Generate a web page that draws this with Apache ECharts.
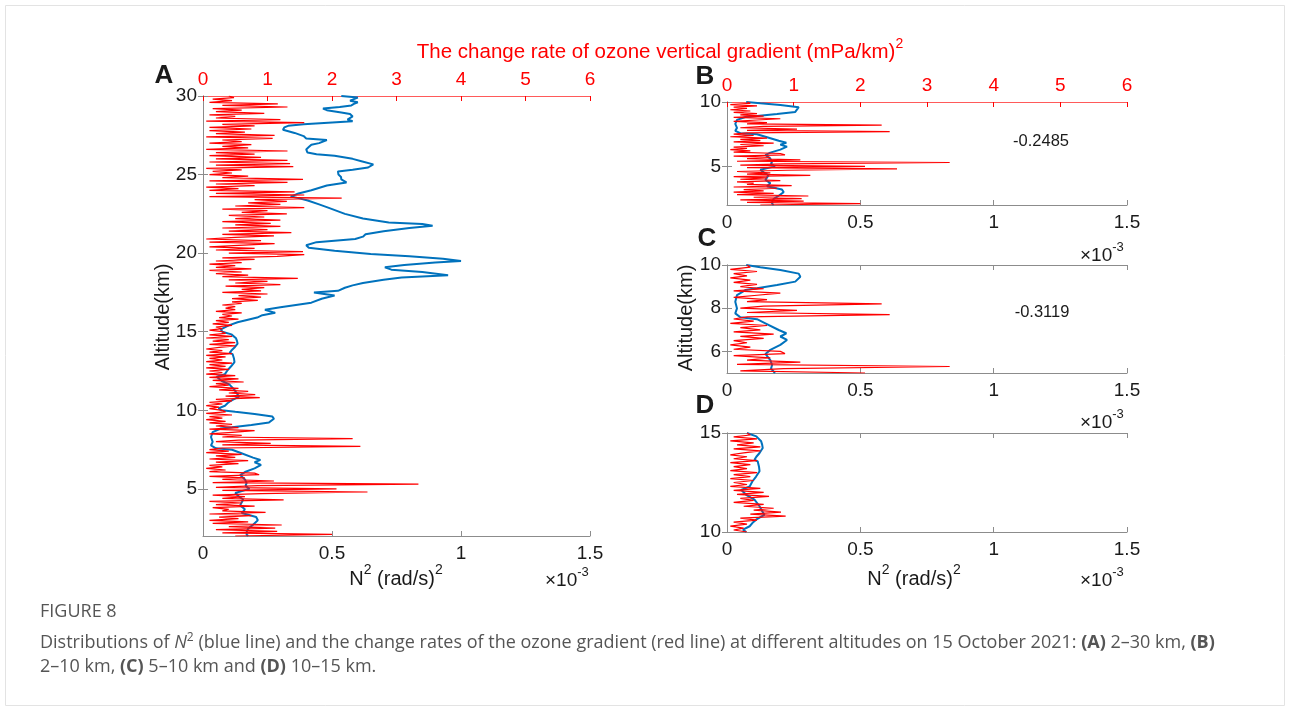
<!DOCTYPE html>
<html>
<head>
<meta charset="utf-8">
<script src="https://cdn.jsdelivr.net/npm/echarts@6/dist/echarts.min.js"></script>
<style>
html,body{margin:0;padding:0;background:#fff;}
#chart{width:1290px;height:718px;}
</style>
</head>
<body>
<div id="chart"></div>
<script>
// ---------------- DATA ----------------
// Red line: change rate of ozone vertical gradient (mPa/km)^2, altitude grid 2.0 .. 30.0 km, step 0.1 km
const RED_ALT_START = 2.0;
const RED_ALT_STEP = 0.1;
const redRate = [
  0.5, 2.0, 0.3, 1.15, 0.2, 1.12, 0.4, 1.22, 0.15, 0.7,      // 2.0-2.9
  0.1, 0.55, 0.25, 0.75, 0.1, 0.97, 0.3, 0.4, 0.15, 0.8,     // 3.0-3.9
  0.2, 0.6, 0.1, 1.25, 0.3, 0.65, 0.15, 0.9, 2.55, 0.3,      // 4.0-4.9
  2.07, 0.2, 0.85, 3.34, 0.15, 1.1, 0.3, 0.65, 0.1, 0.87,    // 5.0-5.9
  0.8, 0.1, 0.35, 0.05, 0.3, 0.1, 0.55, 0.2, 0.7, 0.1,       // 6.0-6.9
  0.5, 0.2, 0.6, 0.05, 0.4, 0.1, 0.3, 2.44, 0.3, 1.05,       // 7.0-7.9
  0.2, 0.55, 2.32, 0.3, 0.6, 0.1, 0.45, 0.8, 0.1, 0.55,      // 8.0-8.9
  0.2, 0.45, 0.1, 0.35, 0.05, 0.3, 0.1, 0.45, 0.05, 0.35,    // 9.0-9.9
  0.3, 0.1, 0.25, 0.05, 0.3, 0.1, 0.45, 0.2, 0.88, 0.35,     // 10.0-10.9
  0.81, 0.4, 0.7, 0.25, 0.55, 0.1, 0.4, 0.2, 0.63, 0.15,     // 11.0-11.9
  0.55, 0.1, 0.5, 0.05, 0.3, 0.1, 0.4, 0.05, 0.35, 0.1,      // 12.0-12.9
  0.45, 0.05, 0.3, 0.1, 0.35, 0.05, 0.45, 0.1, 0.3, 0.05,    // 13.0-13.9
  0.25, 0.5, 0.1, 0.5, 0.15, 0.4, 0.05, 0.45, 0.1, 0.35,     // 14.0-14.9
  0.3, 0.1, 0.3, 0.2, 0.45, 0.15, 0.4, 0.2, 0.55, 0.25,      // 15.0-15.9
  0.45, 0.3, 0.6, 0.2, 0.5, 0.35, 0.5, 0.3, 0.6, 0.45,       // 16.0-16.9
  0.85, 0.45, 0.9, 0.55, 1.0, 0.3, 0.9, 0.6, 0.95, 0.35,     // 17.0-17.9
  1.2, 0.5, 1.0, 0.4, 1.47, 0.3, 0.7, 0.2, 0.6, 0.1,         // 18.0-18.9
  0.75, 0.2, 0.5, 0.1, 0.6, 0.2, 0.8, 0.3, 1.15, 1.57,       // 19.0-19.9
  0.4, 1.55, 0.2, 0.8, 0.1, 0.55, 1.11, 0.1, 0.9, 0.05,      // 20.0-20.9
  0.5, 1.1, 0.3, 1.37, 0.4, 1.0, 0.3, 1.2, 0.5, 1.05,        // 21.0-21.9
  0.3, 1.2, 0.5, 0.95, 0.4, 1.3, 0.6, 1.0, 0.3, 1.57,        // 22.0-22.9
  0.5, 1.2, 0.7, 1.3, 0.8, 2.15, 0.1, 1.57, 0.2, 1.42,       // 23.0-23.9
  0.1, 0.55, 0.05, 0.8, 0.2, 1.31, 0.1, 1.55, 0.3, 0.7,      // 24.0-24.9
  0.1, 0.45, 0.15, 0.6, 0.05, 1.4, 0.2, 1.35, 0.1, 1.31,     // 25.0-25.9
  0.2, 0.9, 0.1, 0.8, 0.2, 1.31, 0.05, 0.7, 0.3, 0.75,       // 26.0-26.9
  0.1, 0.6, 0.3, 1.08, 0.05, 1.11, 0.2, 0.65, 0.1, 0.75,     // 27.0-27.9
  0.1, 0.8, 0.3, 1.57, 0.05, 1.2, 0.2, 0.5, 0.1, 0.95,       // 28.0-28.9
  0.2, 0.6, 0.15, 1.31, 0.3, 1.16, 0.1, 0.45, 0.15, 0.48,    // 29.0-29.9
  0.4                                                        // 30.0
];

// Blue line: N^2 in units of 1e-3 (rad/s)^2, with altitudes (km)
const blueAlt = [
  30.0, 29.9, 29.8, 29.7, 29.6, 29.5, 29.4, 29.3, 29.2, 29.1, 28.95, 28.85, 28.7, 28.6, 28.5, 28.4, 28.3, 28.2, 28.1, 28.0,
  27.85, 27.65, 27.45, 27.3, 27.2, 27.1, 27.0, 26.9, 26.75, 26.6, 26.4, 26.3, 26.2, 26.0, 25.85, 25.65, 25.45, 25.3, 25.2, 25.1,
  25.0, 24.85, 24.7, 24.5, 24.3, 24.0, 23.8, 23.6, 23.5, 23.35, 23.1, 22.9, 22.8, 22.5, 22.2, 21.95, 21.85, 21.75, 21.6, 21.4,
  21.2, 21.05, 20.9, 20.7, 20.5, 20.35, 20.15, 19.95, 19.8, 19.65, 19.5, 19.4, 19.25, 19.1, 18.95, 18.8, 18.6, 18.45, 18.3, 18.1,
  17.95, 17.8, 17.6, 17.5, 17.3, 17.1, 16.85, 16.7, 16.55, 16.4, 16.2, 16.05, 15.9, 15.75, 15.6, 15.4, 15.15, 15.0,
  14.83, 14.58, 14.4, 14.24, 13.99, 13.8, 13.65, 13.57, 13.3, 13.07, 12.8, 12.55, 12.3, 12.13, 11.88, 11.63, 11.3, 11.1, 10.87, 10.62,
  10.45, 10.29, 10.12, 10.0,
  9.9, 9.77, 9.6, 9.46, 9.23, 9.07, 8.92, 8.84, 8.61, 8.3, 7.99, 7.76, 7.58, 7.49, 7.3, 6.99, 6.84, 6.69, 6.53, 6.3,
  6.07, 5.88, 5.6, 5.37, 5.2, 5.0,
  4.74, 4.5, 4.32, 3.95, 3.7, 3.46, 3.21, 3.0, 2.72, 2.47, 2.3, 2.1, 2.0
];
const blueN2 = [
  0.536, 0.60, 0.585, 0.57, 0.60, 0.585, 0.575, 0.53, 0.465, 0.48, 0.536, 0.57, 0.58, 0.575, 0.56, 0.58, 0.575, 0.39, 0.33, 0.315,
  0.31, 0.355, 0.39, 0.40, 0.48, 0.485, 0.45, 0.42, 0.41, 0.40, 0.405, 0.44, 0.51, 0.58, 0.614, 0.66, 0.64, 0.58, 0.523, 0.53,
  0.525, 0.535, 0.536, 0.556, 0.48, 0.42, 0.37, 0.34, 0.37, 0.406, 0.45, 0.485, 0.49, 0.55, 0.62, 0.72, 0.85, 0.89, 0.80, 0.70,
  0.63, 0.62, 0.59, 0.44, 0.40, 0.41, 0.51, 0.65, 0.80, 0.93, 1.0, 0.90, 0.78, 0.705, 0.73, 0.85, 0.95, 0.77, 0.70, 0.62,
  0.58, 0.55, 0.523, 0.43, 0.51, 0.46, 0.42, 0.36, 0.30, 0.24, 0.28, 0.23, 0.21, 0.17, 0.134, 0.10, 0.069, 0.075,
  0.11, 0.128, 0.132, 0.134, 0.122, 0.11, 0.103, 0.115, 0.12, 0.122, 0.109, 0.095, 0.085, 0.053, 0.072, 0.103, 0.122, 0.13, 0.14, 0.109,
  0.095, 0.085, 0.06, 0.072,
  0.125, 0.20, 0.269, 0.275, 0.256, 0.1875, 0.1125, 0.069, 0.0375, 0.031, 0.0375, 0.031, 0.05, 0.1125, 0.144, 0.194, 0.2225, 0.20, 0.225, 0.20,
  0.1625, 0.144, 0.1625, 0.169, 0.165, 0.18,
  0.125, 0.14, 0.156, 0.144, 0.1625, 0.15, 0.206, 0.2125, 0.194, 0.175, 0.17, 0.169, 0.175
];

const xTicksN2 = [0, 0.5, 1, 1.5];
const xTicksRed = [0, 1, 2, 3, 4, 5, 6];
const yTicksA = [5, 10, 15, 20, 25, 30];
const yTicksB = [5, 10];
const yTicksC = [6, 8, 10];
const yTicksD = [10, 15];
const corrB = '-0.2485';
const corrC = '-0.3119';

// ---------------- BUILD ----------------
const redAlt = redRate.map((_, i) => +(RED_ALT_START + i * RED_ALT_STEP).toFixed(2));
function pairs(vals, alts, lo, hi) {
  const out = [];
  for (let i = 0; i < vals.length; i++) {
    if (alts[i] >= lo - 1e-9 && alts[i] <= hi + 1e-9) out.push([vals[i], alts[i]]);
  }
  return out;
}

const FONT = '"Liberation Sans", Arial, sans-serif';
const TICK_FS = 19;
const GRAY = '#8c8c8c';
const TXT = '#1a1a1a';
const RED = '#ff0000';
const BLUE = '#0072BD';

const grids = [
  {left: 203, top: 96, width: 387, height: 440},   // A
  {left: 727, top: 102, width: 400, height: 103},  // B
  {left: 727, top: 265, width: 400, height: 108},  // C
  {left: 727, top: 433, width: 400, height: 99}    // D
];

function bottomAxis(g) {
  return {
    type: 'value', gridIndex: g, position: 'bottom', min: 0, max: 1.5, interval: 0.5,
    axisLine: {show: true, lineStyle: {color: GRAY, width: 1}},
    axisTick: {show: true, inside: true, length: 5, lineStyle: {color: GRAY}},
    axisLabel: {show: true, color: TXT, fontFamily: FONT, fontSize: TICK_FS, margin: 8,
      formatter: v => String(v)},
    splitLine: {show: false}
  };
}
function topRedAxis(g) {
  return {
    type: 'value', gridIndex: g, position: 'top', min: 0, max: 6, interval: 1,
    axisLine: {show: true, lineStyle: {color: '#ff5a5a', width: 1}},
    axisTick: {show: true, inside: true, length: 5, lineStyle: {color: RED}},
    axisLabel: {show: true, color: RED, fontFamily: FONT, fontSize: TICK_FS, margin: 7},
    splitLine: {show: false}
  };
}
function topMirrorAxis(g) {
  return {
    type: 'value', gridIndex: g, position: 'top', min: 0, max: 1.5, interval: 0.5,
    axisLine: {show: true, lineStyle: {color: GRAY, width: 1}},
    axisTick: {show: true, inside: true, length: 5, lineStyle: {color: GRAY}},
    axisLabel: {show: false},
    splitLine: {show: false}
  };
}
function leftAxis(g, min, max, ticks) {
  return {
    type: 'value', gridIndex: g, position: 'left', min: min, max: max,
    axisLine: {show: true, lineStyle: {color: GRAY, width: 1}},
    axisTick: {show: true, inside: true, length: 5, lineStyle: {color: GRAY}, customValues: ticks},
    axisLabel: {show: true, color: TXT, fontFamily: FONT, fontSize: TICK_FS, margin: 6, customValues: ticks},
    splitLine: {show: false}
  };
}
function rightAxis(g, min, max, ticks) {
  return {
    type: 'value', gridIndex: g, position: 'right', min: min, max: max,
    axisLine: {show: true, lineStyle: {color: GRAY, width: 1}},
    axisTick: {show: true, inside: true, length: 5, lineStyle: {color: GRAY}, customValues: ticks},
    axisLabel: {show: false, customValues: ticks},
    splitLine: {show: false}
  };
}

const xAxes = [
  bottomAxis(0), topRedAxis(0),
  bottomAxis(1), topRedAxis(1),
  bottomAxis(2), topMirrorAxis(2),
  bottomAxis(3), topMirrorAxis(3),
  Object.assign(topRedAxis(2), {show: false}),   // hidden 0-6 scale for red series in C
  Object.assign(topRedAxis(3), {show: false})    // hidden 0-6 scale for red series in D
];
const yAxes = [
  leftAxis(0, 2, 30, yTicksA), rightAxis(0, 2, 30, yTicksA),
  leftAxis(1, 2, 10, yTicksB), rightAxis(1, 2, 10, yTicksB),
  leftAxis(2, 5, 10, yTicksC), rightAxis(2, 5, 10, yTicksC),
  leftAxis(3, 10, 15, yTicksD), rightAxis(3, 10, 15, yTicksD)
];

function line(data, xi, yi, color, width, z) {
  return {
    type: 'line', data: data, xAxisIndex: xi, yAxisIndex: yi,
    showSymbol: false, symbol: 'none', clip: true, animation: false, z: z,
    lineStyle: {color: color, width: width}, itemStyle: {color: color}
  };
}

const ranges = [[2, 30], [2, 10], [5, 10], [10, 15]];
const redAxisIdx = [1, 3, 8, 9];
const series = [];
ranges.forEach((r, g) => {
  series.push(line(pairs(blueN2, blueAlt, r[0], r[1]), 2 * g, 2 * g, BLUE, 2, 2));
  series.push(line(pairs(redRate, redAlt, r[0], r[1]), redAxisIdx[g], 2 * g, RED, 1.2, 3));
});

function txt(x, y, text, opt) {
  return {
    type: 'text', x: x, y: y, rotation: (opt && opt.rotation) || 0, z: 10,
    style: Object.assign({
      text: text, fill: TXT, font: '17px ' + FONT, align: 'center', verticalAlign: 'middle'
    }, (opt && opt.style) || {})
  };
}
function supRich(fs, sfs, color) {
  return {
    n: {fontSize: fs, fontFamily: FONT, fill: color, lineHeight: fs + 6, verticalAlign: 'bottom'},
    s: {fontSize: sfs, fontFamily: FONT, fill: color, lineHeight: fs + 6, verticalAlign: 'top'}
  };
}
const graphics = [
  {type: 'rect', shape: {x: 5.5, y: 5.5, width: 1279, height: 700}, style: {fill: 'none', stroke: '#e3e3e3', lineWidth: 1}, z: 0, silent: true},
  txt(660, 50, '{n|The change rate of ozone vertical gradient (mPa/km)}{s|2}',
    {style: {fill: RED, rich: supRich(20.5, 14, RED)}}),
  txt(164, 76, 'A', {style: {font: 'bold 26px ' + FONT}}),
  txt(705, 77, 'B', {style: {font: 'bold 26px ' + FONT}}),
  txt(707, 239, 'C', {style: {font: 'bold 26px ' + FONT}}),
  txt(705, 406, 'D', {style: {font: 'bold 26px ' + FONT}}),
  txt(163, 317, 'Altitude(km)', {rotation: Math.PI / 2, style: {font: '20px ' + FONT}}),
  txt(686, 318, 'Altitude(km)', {rotation: Math.PI / 2, style: {font: '20px ' + FONT}}),
  txt(1041, 141, corrB, {style: {font: '16.5px ' + FONT}}),
  txt(1042, 312, corrC, {style: {font: '16.5px ' + FONT}}),
  txt(396, 576, '{n|N}{s|2}{n| (rad/s)}{s|2}', {style: {rich: supRich(20, 14, TXT)}}),
  txt(914, 576, '{n|N}{s|2}{n| (rad/s)}{s|2}', {style: {rich: supRich(20, 14, TXT)}})
];
// x10^-3 multipliers
[[545, 578], [1080, 253], [1080, 420], [1080, 578]].forEach(p => {
  graphics.push(txt(p[0], p[1], '{n|\u00d710}{s|-3}', {style: {align: 'left', rich: supRich(19, 13, TXT)}}));
});
// caption
const CAP = '"Open Sans", "Noto Sans", sans-serif';
const CAPC = '#555555';
const CAP_FS = 18;
graphics.push({
  type: 'text', x: 40, y: 612, z: 10,
  style: {text: 'FIGURE 8', fill: CAPC, font: '18px ' + CAP, align: 'left', verticalAlign: 'middle'}
});
graphics.push({
  type: 'text', x: 40, y: 643, z: 10,
  style: {
    text: 'Distributions of {i|N}{sup|2} (blue line) and the change rates of the ozone gradient (red line) at different altitudes on 15 October 2021: {b|(A)} 2\u201330 km, {b|(B)}',
    fill: CAPC, font: CAP_FS + 'px ' + CAP, align: 'left', verticalAlign: 'middle',
    rich: {
      i: {fontStyle: 'italic', fontSize: CAP_FS, fontFamily: CAP, fill: CAPC, lineHeight: 22},
      sup: {fontSize: 12, fontFamily: CAP, fill: CAPC, verticalAlign: 'top', lineHeight: 22},
      b: {fontWeight: 'bold', fontSize: CAP_FS, fontFamily: CAP, fill: CAPC, lineHeight: 22}
    }
  }
});
graphics.push({
  type: 'text', x: 40, y: 667, z: 10,
  style: {
    text: '2\u201310 km, {b|(C)} 5\u201310 km and {b|(D)} 10\u201315 km.',
    fill: CAPC, font: CAP_FS + 'px ' + CAP, align: 'left', verticalAlign: 'middle',
    rich: {b: {fontWeight: 'bold', fontSize: CAP_FS, fontFamily: CAP, fill: CAPC}}
  }
});

const chart = echarts.init(document.getElementById('chart'), null, {renderer: 'canvas'});
chart.setOption({
  animation: false,
  backgroundColor: '#ffffff',
  grid: grids.map(g => Object.assign({show: false, containLabel: false}, g)),
  xAxis: xAxes,
  yAxis: yAxes,
  series: series,
  graphic: graphics
});
</script>
</body>
</html>
